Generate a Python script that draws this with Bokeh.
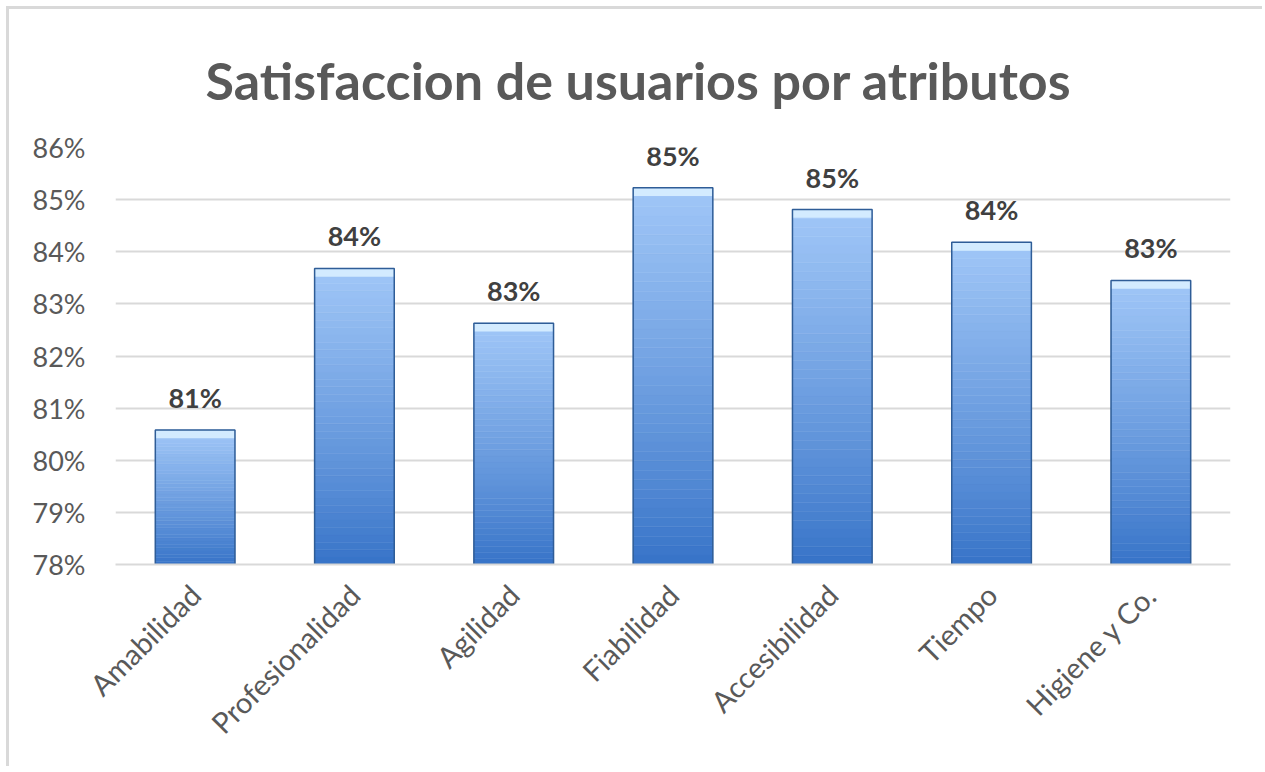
from bokeh.plotting import figure
from bokeh.models import FactorRange, Range1d, NumeralTickFormatter, ColumnDataSource, LabelSet
from bokeh.core.properties import value
from bokeh.embed import file_html
from bokeh.resources import INLINE

categories = ["Amabilidad", "Profesionalidad", "Agilidad", "Fiabilidad",
              "Accesibilidad", "Tiempo", "Higiene y Co."]
values = [0.8058, 0.8368, 0.8263, 0.8523, 0.8481, 0.8418, 0.8345]
y_ticks = [0.78, 0.79, 0.80, 0.81, 0.82, 0.83, 0.84, 0.85, 0.86]
title_text = "Satisfaccion de usuarios por atributos"

BASE = 0.78
W, H = 1256, 760
FONT = "Lato"

p = figure(width=W, height=H, x_range=FactorRange(*categories, range_padding=0),
           y_range=Range1d(BASE, 0.86), output_backend="svg", toolbar_location=None,
           min_border_left=106, min_border_right=35, min_border_top=137, min_border_bottom=205)
p.styles = {"border-left": "3px solid #d9d9d9", "border-top": "3px solid #d9d9d9",
            "margin-left": "6px", "margin-top": "6px"}

p.title.text = title_text
p.title.text_font = FONT
p.title.text_font_size = "52px"
p.title.text_font_style = "bold"
p.title.text_color = "#595959"
p.title.align = "left"
p.title.offset = 90
p.title.standoff = 74

p.outline_line_color = None
p.border_fill_color = "white"
p.background_fill_color = "white"

def hexmix(c1, c2, t):
    a = [int(c1[i:i+2], 16) for i in (1, 3, 5)]
    b = [int(c2[i:i+2], 16) for i in (1, 3, 5)]
    return "#%02x%02x%02x" % tuple(round(a[k] + (b[k] - a[k]) * t) for k in range(3))

# gradient bars built from slices of each bar
N = 40
xs, bots, tops, cols = [], [], [], []
for c, v in zip(categories, values):
    for k in range(N):
        f0 = k / N
        f1 = (k + 1) / N
        xs.append(c)
        bots.append(BASE + (v - BASE) * f0)
        tops.append(BASE + (v - BASE) * f1)
        cols.append(hexmix("#3874c8", "#a2c8f8", f0 ** 0.9))
src = ColumnDataSource(dict(x=xs, bottom=bots, top=tops, color=cols))
p.vbar(x="x", bottom="bottom", top="top", width=0.5, fill_color="color",
       line_color="color", line_width=0.5, source=src)

# top bevel highlight
bev = ColumnDataSource(dict(x=categories, top=values, bottom=[v - 0.0016 for v in values]))
p.vbar(x="x", bottom="bottom", top="top", width=0.5, fill_color="#d3ebff",
       line_color=None, source=bev)

# outline
out = ColumnDataSource(dict(x=categories, top=values, bottom=[BASE] * len(values),
                            lab=["%d%%" % round(v * 100) for v in values]))
p.vbar(x="x", bottom="bottom", top="top", width=0.5, fill_color=None,
       line_color="#2f5d97", line_width=1.5, source=out)

labels = LabelSet(x="x", y="top", text="lab", source=out, text_align="center",
                  text_baseline="bottom", y_offset=16, text_font=value(FONT),
                  text_font_size=value("27px"), text_font_style=value("bold"),
                  text_color=value("#404040"))
p.add_layout(labels)

p.yaxis.ticker = y_ticks
p.yaxis.formatter = NumeralTickFormatter(format="0%")
p.yaxis.axis_line_color = None
p.yaxis.major_tick_line_color = None
p.yaxis.minor_tick_line_color = None
p.yaxis.major_label_text_font = FONT
p.yaxis.major_label_text_font_size = "27px"
p.yaxis.major_label_text_color = "#595959"
p.yaxis.major_label_standoff = 24

p.xaxis.axis_line_color = "#d9d9d9"
p.xaxis.axis_line_width = 2
p.xaxis.major_tick_line_color = None
p.xaxis.minor_tick_line_color = None
p.xaxis.major_label_orientation = 0.785398
p.xaxis.major_label_text_font = FONT
p.xaxis.major_label_text_font_size = "29px"
p.xaxis.major_label_text_color = "#595959"
p.xaxis.major_label_standoff = 19

p.xgrid.grid_line_color = None
p.ygrid.grid_line_color = "#d9d9d9"
p.ygrid.grid_line_width = 2

open("out.html", "w").write(file_html(p, INLINE))
